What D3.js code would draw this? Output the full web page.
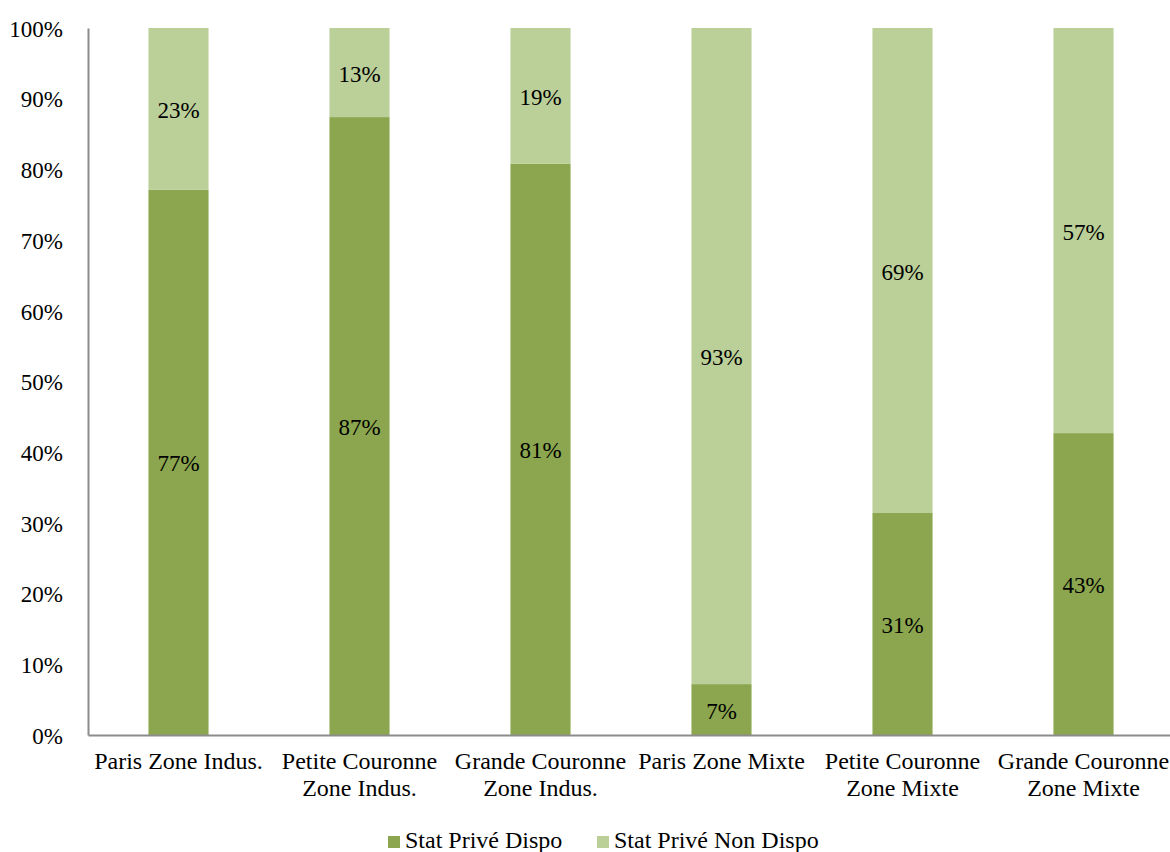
<!DOCTYPE html>
<html>
<head>
<meta charset="utf-8">
<script src="https://cdn.jsdelivr.net/npm/d3@7"></script>
<style>
  body { margin: 0; background: #fff; }
  text { font-family: "Liberation Serif", "Times New Roman", serif; fill: #000; }
</style>
</head>
<body>
<div id="chart"></div>
<script>
// data
const categories = [
  ['Paris Zone Indus.'],
  ['Petite Couronne', 'Zone Indus.'],
  ['Grande Couronne', 'Zone Indus.'],
  ['Paris Zone Mixte'],
  ['Petite Couronne', 'Zone Mixte'],
  ['Grande Couronne', 'Zone Mixte']
];
const dispo = [0.771, 0.874, 0.808, 0.072, 0.314, 0.427];
const nonDispo = [0.229, 0.126, 0.192, 0.928, 0.686, 0.573];
const seriesNames = ['Stat Privé Dispo', 'Stat Privé Non Dispo'];
const yTicks = [0, 0.1, 0.2, 0.3, 0.4, 0.5, 0.6, 0.7, 0.8, 0.9, 1];

const colours = { dispo: '#8ba64e', nonDispo: '#bbcf98', axis: '#8c8c8c' };
const font = '"Liberation Serif", "Times New Roman", serif';

const w = 1170;
const h = 852;
const margin = { top: 28, right: -4, bottom: 117, left: 88 };

const svg = d3.select('#chart')
  .append('svg')
  .attr('width', w)
  .attr('height', h);

// scales
const xScale = d3.scaleBand()
  .domain(d3.range(categories.length))
  .range([margin.left, w - margin.right])
  .paddingInner(0.668)
  .paddingOuter(0.334);

const yScale = d3.scaleLinear()
  .domain([0, 1])
  .range([h - margin.bottom, margin.top]);

// stacked rows
const rows = categories.map((c, i) => ({ i, dispo: dispo[i], nonDispo: nonDispo[i] }));
const stack = d3.stack().keys(['dispo', 'nonDispo']);
const layers = stack(rows);

svg.selectAll('g.layer')
  .data(layers)
  .join('g')
    .attr('class', 'layer')
    .attr('fill', d => colours[d.key])
  .selectAll('rect')
  .data(d => d)
  .join('rect')
    .attr('x', d => xScale(d.data.i))
    .attr('width', xScale.bandwidth())
    .attr('y', d => yScale(d[1]))
    .attr('height', d => yScale(d[0]) - yScale(d[1]));

// value labels
layers.forEach(layer => {
  svg.append('g')
    .selectAll('text')
    .data(layer)
    .join('text')
      .attr('x', d => xScale(d.data.i) + xScale.bandwidth() / 2)
      .attr('y', d => (yScale(d[0]) + yScale(d[1])) / 2 + 9)
      .attr('text-anchor', 'middle')
      .style('font-size', '23px')
      .text(d => Math.round((d[1] - d[0]) * 100) + '%');
});

// y axis
const yAxis = d3.axisLeft(yScale)
  .tickValues(yTicks)
  .tickFormat(d => Math.round(d * 100) + '%')
  .tickSize(0)
  .tickPadding(25);

svg.append('g')
  .classed('y-axis', true)
  .attr('transform', `translate(${margin.left}, 0)`)
  .call(yAxis);

svg.select('.y-axis .domain')
  .attr('stroke', colours.axis)
  .attr('stroke-width', 2);

svg.selectAll('.y-axis .tick text')
  .attr('fill', '#000')
  .attr('dy', '0.36em')
  .style('font-size', '23px')
  .style('font-family', font);

// x axis (ticks already sit at band centres)
const xAxis = d3.axisBottom(xScale)
  .tickSize(0)
  .tickFormat('');

svg.append('g')
  .classed('x-axis', true)
  .attr('transform', `translate(0, ${h - margin.bottom})`)
  .call(xAxis);

svg.select('.x-axis .domain')
  .attr('stroke', colours.axis)
  .attr('stroke-width', 2);

svg.select('.x-axis')
  .selectAll('.tick')
  .append('text')
    .attr('text-anchor', 'middle')
    .attr('fill', '#000')
    .style('font-size', '24px')
    .style('font-family', font)
  .selectAll('tspan')
  .data(i => categories[i])
  .join('tspan')
    .attr('x', 0)
    .attr('y', (d, j) => 34 + j * 27)
    .text(d => d);

// legend
const legend = svg.append('g')
  .attr('transform', 'translate(388, 836)');

const legendX = [0, 209];
seriesNames.forEach((name, i) => {
  const g = legend.append('g').attr('transform', `translate(${legendX[i]}, 0)`);
  g.append('rect')
    .attr('width', 12)
    .attr('height', 12)
    .attr('fill', i === 0 ? colours.dispo : colours.nonDispo);
  g.append('text')
    .attr('x', 17)
    .attr('y', 12)
    .style('font-size', '24px')
    .text(name);
});
</script>
</body>
</html>
